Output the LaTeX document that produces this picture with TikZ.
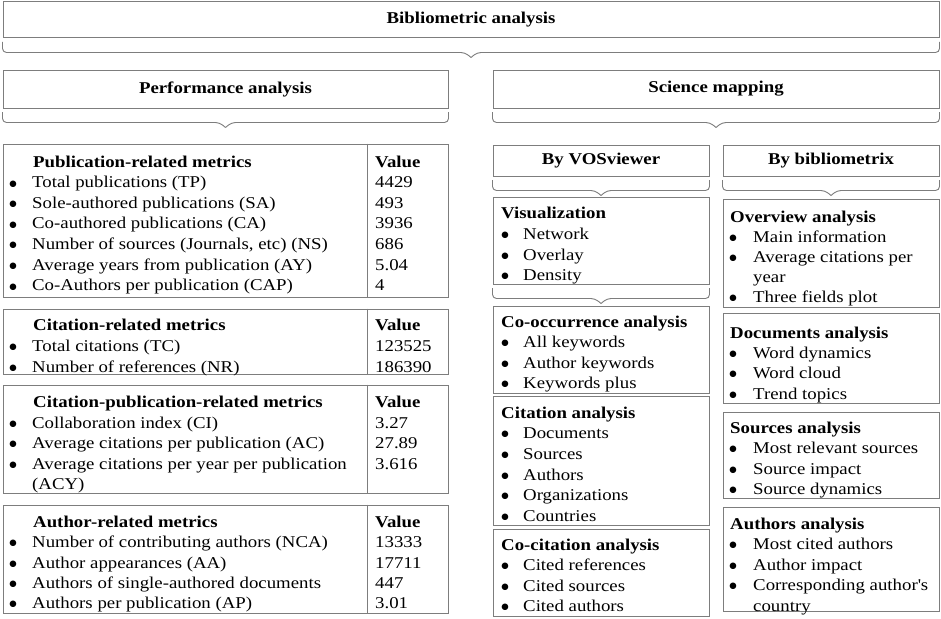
\documentclass[tikz,border=0pt]{standalone}
\usepackage{fontspec}
\setmainfont{Liberation Serif}[FakeStretch=1.14]
\newfontfamily\bulfont{DejaVu Sans}
\usetikzlibrary{calc,fit}
\definecolor{lg}{RGB}{125,125,125}
\newcommand\msz{\fontsize{16.5}{20}\selectfont}
\newcommand\bigbul{\raisebox{1.6pt}{\bulfont\fontsize{8.5}{9}\selectfont ●}}
\tikzset{
 box/.style={draw=lg, line width=1pt, inner sep=0pt},
 txt/.style={anchor=base west, inner sep=0pt, font=\msz},
 bul/.style={anchor=base, inner sep=0pt},
 hd/.style={anchor=base west, inner sep=0pt, font=\msz\bfseries},
 ttl/.style={inner sep=0pt, font=\msz\bfseries},
 brc/.style={draw=lg, line width=0.9pt, rounded corners=4pt},
}
\newcommand\bracebelow[1]{%
 \draw[brc] ($(#1.south west)+(0,3.5)$) -- ($(#1.south west)+(0,14)$) -- ($(#1.south)+(-6,14)$) -- ($(#1.south)+(0,19)$);
 \draw[brc] ($(#1.south east)+(0,3.5)$) -- ($(#1.south east)+(0,14)$) -- ($(#1.south)+(6,14)$) -- ($(#1.south)+(0,19)$);}
\newcommand\bitem[5]{\node[bul] (#1b) at (#2,{#4+5}) {\bigbul}; \node[txt] (#1) at (#3,{#4+5}) {#5};}
\newcommand\hitem[4]{\node[hd] (#1) at (#2,{#3+5}) {#4};}
\newcommand\pitem[4]{\node[txt] (#1) at (#2,{#3+5}) {#4};}
\begin{document}
\begin{tikzpicture}[x=1pt,y=-1pt]
\useasboundingbox[fill=white] (0,0) rectangle (941,618);
% top
\node[box, fit={(3,2)(939,38)}] (bib) {};
\node[ttl] (bibT) at (bib.center) {Bibliometric analysis};
\bracebelow{bib}
\node[box, fit={(3,70)(448,108)}] (perf) {};
\node[ttl] (perfT) at (perf.center) {Performance analysis};
\bracebelow{perf}
\node[box, fit={(493,70)(939,108)}] (sci) {};
\node[ttl] (sciT) at (sci.center) {Science mapping};
\bracebelow{sci}
% left tables
\node[box, fit={(3,144)(448,297)}] (ta) {};
\node[box, fit={(3,309)(448,374)}] (tb) {};
\node[box, fit={(3,385)(448,493)}] (tc) {};
\node[box, fit={(3,505)(448,613)}] (td) {};
\foreach \t in {ta,tb,tc,td}{\draw[lg, line width=1pt] ($(\t.north west)+(365,0)$) -- ($(\t.south west)+(365,0)$);}
% table a
\hitem{ah}{33}{162}{Publication-related metrics}
\hitem{av}{375}{162}{Value}
\bitem{a1}{13}{32}{182.6}{Total publications (TP)}
\bitem{a2}{13}{32}{203.2}{Sole-authored publications (SA)}
\bitem{a3}{13}{32}{223.8}{Co-authored publications (CA)}
\bitem{a4}{13}{32}{244.4}{Number of sources (Journals, etc) (NS)}
\bitem{a5}{13}{32}{265}{Average years from publication (AY)}
\bitem{a6}{13}{32}{285.6}{Co-Authors per publication (CAP)}
\pitem{av1}{375}{182.6}{4429}
\pitem{av2}{375}{203.2}{493}
\pitem{av3}{375}{223.8}{3936}
\pitem{av4}{375}{244.4}{686}
\pitem{av5}{375}{265}{5.04}
\pitem{av6}{375}{285.6}{4}
% table b
\hitem{bh}{33}{325}{Citation-related metrics}
\hitem{bv}{375}{325}{Value}
\bitem{b1}{13}{32}{346}{Total citations (TC)}
\bitem{b2}{13}{32}{367}{Number of references (NR)}
\pitem{bv1}{375}{346}{123525}
\pitem{bv2}{375}{367}{186390}
% table c
\hitem{ch}{33}{402}{Citation-publication-related metrics}
\hitem{cv}{375}{402}{Value}
\bitem{c1}{13}{32}{423}{Collaboration index (CI)}
\bitem{c2}{13}{32}{443.5}{Average citations per publication (AC)}
\bitem{c3}{13}{32}{464}{Average citations per year per publication}
\pitem{c4}{32}{484.5}{(ACY)}
\pitem{cv1}{375}{423}{3.27}
\pitem{cv2}{375}{443.5}{27.89}
\pitem{cv3}{375}{464}{3.616}
% table d
\hitem{dh}{33}{522}{Author-related metrics}
\hitem{dv}{375}{522}{Value}
\bitem{d1}{13}{32}{542.5}{Number of contributing authors (NCA)}
\bitem{d2}{13}{32}{563}{Author appearances (AA)}
\bitem{d3}{13}{32}{583}{Authors of single-authored documents}
\bitem{d4}{13}{32}{603}{Authors per publication (AP)}
\pitem{dv1}{375}{542.5}{13333}
\pitem{dv2}{375}{563}{17711}
\pitem{dv3}{375}{583}{447}
\pitem{dv4}{375}{603}{3.01}
% middle column
\node[box, fit={(493,145)(709,176)}] (vos) {};
\node[ttl] (vosT) at (vos.center) {By VOSviewer};
\bracebelow{vos}
\node[box, fit={(493,197)(709,284)}] (vis) {};
\bracebelow{vis}
\node[box, fit={(493,306)(709,393)}] (coo) {};
\node[box, fit={(493,396)(709,525)}] (cit) {};
\node[box, fit={(493,529)(709,616)}] (coc) {};
\hitem{vish}{501}{213}{Visualization}
\bitem{vis1}{505}{523}{234}{Network}
\bitem{vis2}{505}{523}{255}{Overlay}
\bitem{vis3}{505}{523}{275}{Density}
\hitem{cooh}{501}{322}{Co-occurrence analysis}
\bitem{coo1}{505}{523}{342}{All keywords}
\bitem{coo2}{505}{523}{363}{Author keywords}
\bitem{coo3}{505}{523}{383}{Keywords plus}
\hitem{cith}{501}{413}{Citation analysis}
\bitem{cit1}{505}{523}{433.5}{Documents}
\bitem{cit2}{505}{523}{454}{Sources}
\bitem{cit3}{505}{523}{475}{Authors}
\bitem{cit4}{505}{523}{495.5}{Organizations}
\bitem{cit5}{505}{523}{516}{Countries}
\hitem{coch}{501}{545}{Co-citation analysis}
\bitem{coc1}{505}{523}{565}{Cited references}
\bitem{coc2}{505}{523}{586}{Cited sources}
\bitem{coc3}{505}{523}{606.5}{Cited authors}
% right column
\node[box, fit={(723,145)(939,176)}] (bix) {};
\node[ttl] (bixT) at (bix.center) {By bibliometrix};
\bracebelow{bix}
\node[box, fit={(723,199)(939,307)}] (ovr) {};
\node[box, fit={(723,313)(939,403)}] (doc) {};
\node[box, fit={(723,412)(939,498)}] (src) {};
\node[box, fit={(723,507)(939,611)}] (aut) {};
\hitem{ovrh}{730}{217}{Overview analysis}
\bitem{ovr1}{733}{753}{237}{Main information}
\bitem{ovr2}{733}{753}{257}{Average citations per}
\pitem{ovr3}{753}{277}{year}
\bitem{ovr4}{733}{753}{297}{Three fields plot}
\hitem{doch}{730}{333}{Documents analysis}
\bitem{doc1}{733}{753}{353}{Word dynamics}
\bitem{doc2}{733}{753}{373.5}{Word cloud}
\bitem{doc3}{733}{753}{394}{Trend topics}
\hitem{srch}{730}{428}{Sources analysis}
\bitem{src1}{733}{753}{448.5}{Most relevant sources}
\bitem{src2}{733}{753}{469}{Source impact}
\bitem{src3}{733}{753}{489}{Source dynamics}
\hitem{auth}{730}{524}{Authors analysis}
\bitem{aut1}{733}{753}{544}{Most cited authors}
\bitem{aut2}{733}{753}{565}{Author impact}
\bitem{aut3}{733}{753}{585.5}{Corresponding author\textquotesingle s}
\pitem{aut4}{753}{606}{country}
\end{tikzpicture}
\end{document}
